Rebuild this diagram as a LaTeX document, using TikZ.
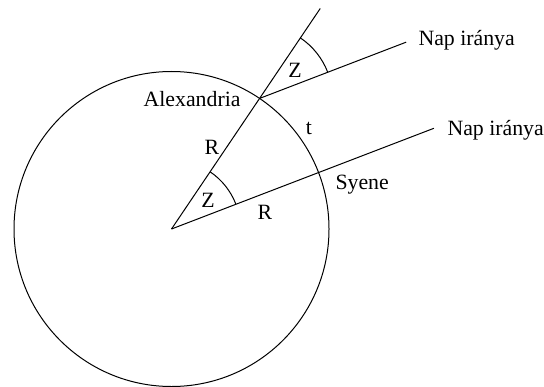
\documentclass[tikz,border=0pt]{standalone}
\usepackage{fontspec}
\setmainfont{Liberation Serif}
\usetikzlibrary{calc}

\begin{document}
\begin{tikzpicture}[
        x=0.5pt, y=0.5pt,
        line width=0.5pt,
        lbl/.style={font=\fontsize{10.9}{12}\selectfont, inner sep=0pt},
        ray/.style={draw=black}
    ]
    \useasboundingbox (0,0) rectangle (544,386);

    % Föld és pontok
    \coordinate (C) at (171.5,157);
    \draw (C) circle[radius=157.5];
    \coordinate (alex) at ($(C)+(56:157.5)$);
    \coordinate (syene) at ($(C)+(21:157.5)$);
    \coordinate (top) at ($(C)+(56:266)$);
    \coordinate (sun1) at ($(alex)+(21:157)$);
    \coordinate (sun2) at ($(C)+(21:281)$);

    % sugarak
    \draw[ray] (C) -- (top);
    \draw[ray] (alex) -- (sun1);
    \draw[ray] (C) -- (sun2);

    % szögek
    \draw ($(C)+(21:69)$) arc[start angle=21, end angle=56, radius=69];
    \draw ($(alex)+(21:73)$) arc[start angle=21, end angle=56, radius=73];

    % feliratok
    \node[lbl, anchor=east] (lalex) at (241,287) {Alexandria};
    \node[lbl] (lz1) at (295,316) {Z};
    \node[lbl] (lz2) at (208,186) {Z};
    \node[lbl] (lr1) at (212,239) {R};
    \node[lbl] (lr2) at (265,174) {R};
    \node[lbl] (lt) at (309,258) {t};
    \node[lbl, anchor=west] (lsyene) at (335,201) {Syene};
    \node[lbl, anchor=west] (lnap1) at (418,346) {Nap iránya};
    \node[lbl, anchor=west] (lnap2) at (447,256) {Nap iránya};
\end{tikzpicture}
\end{document}
